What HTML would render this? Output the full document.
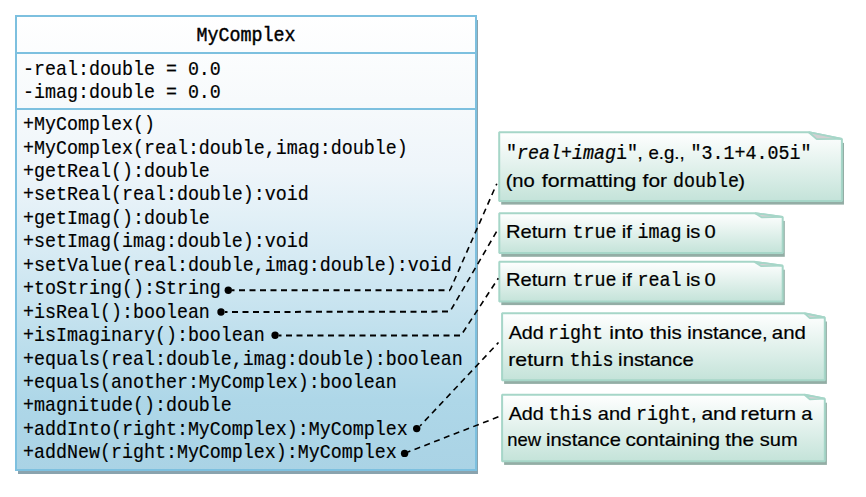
<!DOCTYPE html>
<html><head><meta charset="utf-8"><style>
html,body{margin:0;padding:0;background:#fff;width:866px;height:497px;overflow:hidden}
svg{display:block}
.m{font-family:"Liberation Mono",monospace;font-size:18.333px;fill:#000;stroke:#000;stroke-width:0.15px;white-space:pre}
.mn{stroke-width:0.22px}
.s{font-family:"Liberation Sans",sans-serif;font-size:19px;fill:#000;stroke:#000;stroke-width:0.2px;white-space:pre;font-kerning:none}
</style></head><body>
<svg width="866" height="497" viewBox="0 0 866 497">
<defs>
<linearGradient id="bg" gradientUnits="userSpaceOnUse" x1="0" y1="15" x2="0" y2="471">
<stop offset="0" stop-color="#ffffff"/>
<stop offset="0.186" stop-color="#f7fafc"/>
<stop offset="0.34" stop-color="#eef5fa"/>
<stop offset="0.439" stop-color="#e2f0f7"/>
<stop offset="0.724" stop-color="#bcdeec"/>
<stop offset="0.844" stop-color="#aed7e8"/>
<stop offset="1" stop-color="#aad3e5"/>
</linearGradient>
<linearGradient id="ng" x1="0" y1="0" x2="0" y2="1">
<stop offset="0" stop-color="#ffffff"/><stop offset="1" stop-color="#c4e3d9"/>
</linearGradient>
</defs>

<rect x="18" y="20" width="460" height="454" fill="#8aa3ae"/>
<rect x="16" y="16" width="460" height="454" fill="url(#bg)" stroke="#7dc0df" stroke-width="2"/>
<line x1="16" y1="53" x2="476" y2="53" stroke="#7dc0df" stroke-width="2"/>
<line x1="16" y1="109" x2="476" y2="109" stroke="#7dc0df" stroke-width="2"/>
<text class="m" transform="translate(246,40.8) scale(1,1.07)" text-anchor="middle" style="stroke-width:0.4px">MyComplex</text>
<text class="m" transform="translate(23.0,74.5) scale(1,1.07)">-real:double = 0.0</text>
<text class="m" transform="translate(23.0,97.9) scale(1,1.07)">-imag:double = 0.0</text>
<text class="m" transform="translate(23.0,130.20) scale(1,1.07)">+MyComplex()</text>
<text class="m" transform="translate(23.0,153.63) scale(1,1.07)">+MyComplex(real:double,imag:double)</text>
<text class="m" transform="translate(23.0,177.06) scale(1,1.07)">+getReal():double</text>
<text class="m" transform="translate(23.0,200.49) scale(1,1.07)">+setReal(real:double):void</text>
<text class="m" transform="translate(23.0,223.92) scale(1,1.07)">+getImag():double</text>
<text class="m" transform="translate(23.0,247.35) scale(1,1.07)">+setImag(imag:double):void</text>
<text class="m" transform="translate(23.0,270.78) scale(1,1.07)">+setValue(real:double,imag:double):void</text>
<text class="m" transform="translate(23.0,294.21) scale(1,1.07)">+toString():String</text>
<text class="m" transform="translate(23.0,317.64) scale(1,1.07)">+isReal():boolean</text>
<text class="m" transform="translate(23.0,341.07) scale(1,1.07)">+isImaginary():boolean</text>
<text class="m" transform="translate(23.0,364.50) scale(1,1.07)">+equals(real:double,imag:double):boolean</text>
<text class="m" transform="translate(23.0,387.93) scale(1,1.07)">+equals(another:MyComplex):boolean</text>
<text class="m" transform="translate(23.0,411.36) scale(1,1.07)">+magnitude():double</text>
<text class="m" transform="translate(23.0,434.79) scale(1,1.07)">+addInto(right:MyComplex):MyComplex</text>
<text class="m" transform="translate(23.0,458.22) scale(1,1.07)">+addNew(right:MyComplex):MyComplex</text>
<rect x="501.2" y="142.9" width="342.8" height="61.7" fill="#93ada5"/>
<polygon points="499.2,132.2 808.7,132.2 841.9,138.9 841.9,200.9 499.2,200.9" fill="url(#ng)" stroke="#a6d6c8" stroke-width="2" stroke-linejoin="bevel"/>
<polygon points="808.7,132.2 816.7,139.1 841.9,138.9" fill="#d2d0d2" stroke="#a6d6c8" stroke-width="1.8" stroke-linejoin="bevel"/>
<rect x="501.3" y="220.9" width="283.5" height="35.9" fill="#93ada5"/>
<polygon points="499.3,213.2 755.1,213.2 782.7,216.9 782.7,253.1 499.3,253.1" fill="url(#ng)" stroke="#a6d6c8" stroke-width="2" stroke-linejoin="bevel"/>
<polygon points="755.1,213.2 761.5,217.3 782.7,216.9" fill="#d2d0d2" stroke="#a6d6c8" stroke-width="1.8" stroke-linejoin="bevel"/>
<rect x="501.3" y="269.7" width="283.5" height="35.4" fill="#93ada5"/>
<polygon points="499.3,261.8 754.2,261.8 782.7,265.7 782.7,301.4 499.3,301.4" fill="url(#ng)" stroke="#a6d6c8" stroke-width="2" stroke-linejoin="bevel"/>
<polygon points="754.2,261.8 761.3,266.2 782.7,265.7" fill="#d2d0d2" stroke="#a6d6c8" stroke-width="1.8" stroke-linejoin="bevel"/>
<rect x="504.1" y="321.5" width="322.8" height="62.4" fill="#93ada5"/>
<polygon points="502.1,313.3 804.5,313.3 824.8,317.5 824.8,380.2 502.1,380.2" fill="url(#ng)" stroke="#a6d6c8" stroke-width="2" stroke-linejoin="bevel"/>
<polygon points="804.5,313.3 809.8,318.2 824.8,317.5" fill="#d2d0d2" stroke="#a6d6c8" stroke-width="1.8" stroke-linejoin="bevel"/>
<rect x="504.1" y="402.7" width="322.8" height="62.2" fill="#93ada5"/>
<polygon points="502.1,394.7 804.5,394.7 824.8,398.7 824.8,461.2 502.1,461.2" fill="url(#ng)" stroke="#a6d6c8" stroke-width="2" stroke-linejoin="bevel"/>
<polygon points="804.5,394.7 809.8,399.3 824.8,398.7" fill="#d2d0d2" stroke="#a6d6c8" stroke-width="1.8" stroke-linejoin="bevel"/>
<text class="m mn" transform="translate(506,159.2) scale(1,1.07)">&quot;</text>
<text class="m mn" transform="translate(517,159.2) scale(1,1.07)" font-style="italic">real+imag</text>
<text class="m mn" transform="translate(616,159.2) scale(1,1.07)">i&quot;</text>
<text class="s" x="637.35" y="159.2" textLength="5.60" lengthAdjust="spacingAndGlyphs">,</text>
<text class="s" x="648.41" y="159.2" textLength="36.27" lengthAdjust="spacingAndGlyphs">e.g.,</text>
<text class="m mn" transform="translate(690.5,159.2) scale(1,1.07)">&quot;3.1+4.05i&quot;</text>
<text class="s" x="505.65" y="186.6" textLength="29.20" lengthAdjust="spacingAndGlyphs">(no</text>
<text class="s" x="541.83" y="186.6" textLength="94.62" lengthAdjust="spacingAndGlyphs">formatting</text>
<text class="s" x="642.60" y="186.6" textLength="24.44" lengthAdjust="spacingAndGlyphs">for</text>
<text class="m mn" transform="translate(673,186.6) scale(1,1.07)">double</text>
<text class="s" x="738.36" y="186.6" textLength="6.71" lengthAdjust="spacingAndGlyphs">)</text>
<text class="s" x="505.95" y="237.9" textLength="60.46" lengthAdjust="spacingAndGlyphs">Return</text>
<text class="m mn" transform="translate(572.5,237.9) scale(1,1.07)">true</text>
<text class="s" x="621.68" y="237.9" textLength="10.07" lengthAdjust="spacingAndGlyphs">if</text>
<text class="m mn" transform="translate(637.5,237.9) scale(1,1.07)">imag</text>
<text class="s" x="685.92" y="237.9" textLength="14.54" lengthAdjust="spacingAndGlyphs">is</text>
<text class="s" x="704.55" y="237.9" textLength="11.20" lengthAdjust="spacingAndGlyphs">0</text>
<text class="s" x="505.95" y="286.3" textLength="60.46" lengthAdjust="spacingAndGlyphs">Return</text>
<text class="m mn" transform="translate(572.5,286.3) scale(1,1.07)">true</text>
<text class="s" x="621.68" y="286.3" textLength="10.07" lengthAdjust="spacingAndGlyphs">if</text>
<text class="m mn" transform="translate(637.5,286.3) scale(1,1.07)">real</text>
<text class="s" x="685.92" y="286.3" textLength="14.54" lengthAdjust="spacingAndGlyphs">is</text>
<text class="s" x="704.55" y="286.3" textLength="11.20" lengthAdjust="spacingAndGlyphs">0</text>
<text class="s" x="508.66" y="338.9" textLength="35.21" lengthAdjust="spacingAndGlyphs">Add</text>
<text class="m mn" transform="translate(548,338.9) scale(1,1.07)">right</text>
<text class="s" x="609.38" y="338.9" textLength="34.31" lengthAdjust="spacingAndGlyphs">into</text>
<text class="s" x="649.89" y="338.9" textLength="31.85" lengthAdjust="spacingAndGlyphs">this</text>
<text class="s" x="687.36" y="338.9" textLength="80.24" lengthAdjust="spacingAndGlyphs">instance,</text>
<text class="s" x="771.83" y="338.9" textLength="34.08" lengthAdjust="spacingAndGlyphs">and</text>
<text class="s" x="508.24" y="365.7" textLength="55.59" lengthAdjust="spacingAndGlyphs">return</text>
<text class="m mn" transform="translate(569.5,365.7) scale(1,1.07)">this</text>
<text class="s" x="618.14" y="365.7" textLength="75.66" lengthAdjust="spacingAndGlyphs">instance</text>
<text class="s" x="508.66" y="419.5" textLength="35.21" lengthAdjust="spacingAndGlyphs">Add</text>
<text class="m mn" transform="translate(548.5,419.5) scale(1,1.07)">this</text>
<text class="s" x="597.85" y="419.5" textLength="33.34" lengthAdjust="spacingAndGlyphs">and</text>
<text class="m mn" transform="translate(636,419.5) scale(1,1.07)">right</text>
<text class="s" x="690.95" y="419.5" textLength="5.60" lengthAdjust="spacingAndGlyphs">,</text>
<text class="s" x="701.41" y="419.5" textLength="34.94" lengthAdjust="spacingAndGlyphs">and</text>
<text class="s" x="740.64" y="419.5" textLength="55.59" lengthAdjust="spacingAndGlyphs">return</text>
<text class="s" x="801.22" y="419.5" textLength="11.20" lengthAdjust="spacingAndGlyphs">a</text>
<text class="s" x="507.21" y="446.3" textLength="33.81" lengthAdjust="spacingAndGlyphs">new</text>
<text class="s" x="545.95" y="446.3" textLength="74.94" lengthAdjust="spacingAndGlyphs">instance</text>
<text class="s" x="625.42" y="446.3" textLength="94.62" lengthAdjust="spacingAndGlyphs">containing</text>
<text class="s" x="725.28" y="446.3" textLength="28.94" lengthAdjust="spacingAndGlyphs">the</text>
<text class="s" x="759.74" y="446.3" textLength="37.88" lengthAdjust="spacingAndGlyphs">sum</text>
<line x1="232" y1="290.2" x2="450" y2="290.2" stroke="#000" stroke-width="2" stroke-dasharray="6 4.5" stroke-dashoffset="3.50"/>
<line x1="450" y1="290.2" x2="496.8" y2="183.7" stroke="#000" stroke-width="1.6" stroke-dasharray="6 4.5" stroke-dashoffset="221.50"/>
<line x1="225" y1="312" x2="450" y2="311.6" stroke="#000" stroke-width="2" stroke-dasharray="6 4.5" stroke-dashoffset="3.50"/>
<line x1="450" y1="311.6" x2="496.8" y2="231.2" stroke="#000" stroke-width="1.6" stroke-dasharray="6 4.5" stroke-dashoffset="228.50"/>
<line x1="279" y1="335.4" x2="461" y2="335.4" stroke="#000" stroke-width="2" stroke-dasharray="6 4.5" stroke-dashoffset="3.50"/>
<line x1="461" y1="335.4" x2="498.3" y2="278.2" stroke="#000" stroke-width="1.6" stroke-dasharray="6 4.5" stroke-dashoffset="185.50"/>
<line x1="420" y1="426" x2="498.5" y2="342.5" stroke="#000" stroke-width="1.6" stroke-dasharray="6 4.5" stroke-dashoffset="3.50"/>
<line x1="408" y1="452" x2="498.5" y2="416.8" stroke="#000" stroke-width="1.6" stroke-dasharray="6 4.5" stroke-dashoffset="3.50"/>
<circle cx="228.3" cy="290.2" r="3.7" fill="#000"/>
<circle cx="221" cy="312" r="3.7" fill="#000"/>
<circle cx="275.1" cy="335.3" r="3.7" fill="#000"/>
<circle cx="416.7" cy="428.6" r="3.7" fill="#000"/>
<circle cx="404.6" cy="453.4" r="3.7" fill="#000"/>
</svg></body></html>
